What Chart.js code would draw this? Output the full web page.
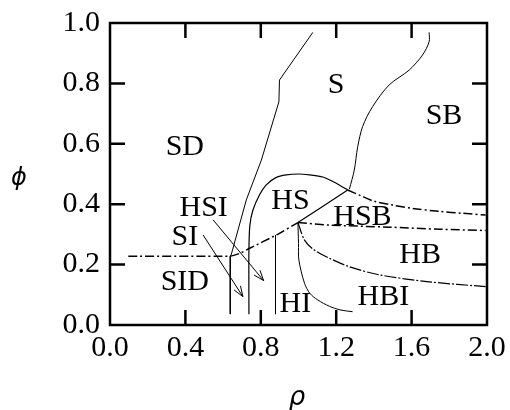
<!DOCTYPE html>
<html><head><meta charset="utf-8">
<script src="https://cdn.jsdelivr.net/npm/chart.js@4/dist/chart.umd.min.js"></script>
<style>html,body{margin:0;padding:0;background:#fff}canvas{display:block}</style>
</head><body>
<canvas id="c" width="510" height="410"></canvas>
<script>
// ---- tick labels ----
const xTicks = [0.0, 0.4, 0.8, 1.2, 1.6, 2.0];
const yTicks = [0.0, 0.2, 0.4, 0.6, 0.8, 1.0];
const xTitle = 'ρ';
const yTitle = 'ϕ';

// ---- phase boundaries (rho, phi) ----
const sdS_x = [1.076, 0.899, 0.896, 0.803, 0.723, 0.644, 0.638, 0.638];
const sdS_y = [0.969, 0.811, 0.739, 0.546, 0.414, 0.235, 0.228, 0.036];

const sSB_x = [1.693, 1.693, 1.658, 1.587, 1.481, 1.393, 1.340, 1.314, 1.296, 1.270];
const sSB_y = [0.969, 0.938, 0.894, 0.844, 0.795, 0.723, 0.657, 0.590, 0.513, 0.450];

const dome_x = [0.737, 0.737, 0.742, 0.758, 0.794, 0.829, 0.880, 0.935, 1.000, 1.058, 1.129, 1.182, 1.220, 1.261];
const dome_y = [0.036, 0.248, 0.330, 0.380, 0.432, 0.464, 0.488, 0.497, 0.500, 0.497, 0.490, 0.475, 0.462, 0.447];

const hsbSB_x = [1.261, 1.323, 1.400, 1.500, 1.605, 1.750, 1.869, 1.993];
const hsbSB_y = [0.447, 0.430, 0.410, 0.397, 0.386, 0.376, 0.370, 0.364];

const lower_x = [0.097, 0.638, 0.688, 0.741, 0.882, 0.997];
const lower_y = [0.228, 0.228, 0.237, 0.254, 0.298, 0.339];

const hsHSB_x = [0.997, 1.130, 1.261];
const hsHSB_y = [0.339, 0.393, 0.447];

const hsbHB_x = [0.997, 1.164, 1.481, 1.750, 1.993];
const hsbHB_y = [0.339, 0.331, 0.324, 0.317, 0.313];

const hbHBI_x = [0.997, 1.032, 1.080, 1.164, 1.270, 1.429, 1.693, 1.993];
const hbHBI_y = [0.339, 0.281, 0.250, 0.221, 0.193, 0.166, 0.143, 0.127];

const hiHBI_x = [0.997, 1.000, 1.002, 1.032, 1.060, 1.102, 1.164, 1.220, 1.287];
const hiHBI_y = [0.339, 0.270, 0.215, 0.138, 0.105, 0.083, 0.062, 0.050, 0.044];

const vert_x = [0.878, 0.878];
const vert_y = [0.298, 0.036];

// ---- arrows ----
const arrowSI_x = [0.494, 0.705];
const arrowSI_y = [0.298, 0.094];
const arrowHSI_x = [0.547, 0.815];
const arrowHSI_y = [0.348, 0.147];

// ---- region labels ----
const regionNames = ['S', 'SB', 'SD', 'HS', 'HSI', 'HSB', 'SI', 'HB', 'SID', 'HBI', 'HI'];
const regionX = [1.200, 1.772, 0.397, 0.957, 0.497, 1.339, 0.397, 1.645, 0.397, 1.450, 0.983];
const regionY = [0.800, 0.700, 0.596, 0.417, 0.394, 0.364, 0.298, 0.238, 0.149, 0.099, 0.077];

const zip = (xs, ys) => xs.map((x, i) => ({x: x, y: ys[i]}));
const DASHDOT = [9, 3, 2, 3];
function line(xs, ys, dash, width, tension) {
  return {data: zip(xs, ys), showLine: true, borderColor: '#000', borderWidth: width || 1,
    borderDash: dash || [], pointRadius: 0, tension: tension || 0, fill: false};
}
const datasets = [
  line(sdS_x, sdS_y, null, 1, 0),
  line(sSB_x, sSB_y, null, 1, 0.3),
  line(dome_x, dome_y, null, 1.2, 0.3),
  line(hsbSB_x, hsbSB_y, DASHDOT, 1.5, 0.3),
  line(lower_x, lower_y, DASHDOT, 1.5, 0.2),
  line(hsHSB_x, hsHSB_y, null, 1.2, 0),
  line(hsbHB_x, hsbHB_y, DASHDOT, 1.5, 0.3),
  line(hbHBI_x, hbHBI_y, [12, 2, 2, 2], 1.2, 0.3),
  line(hiHBI_x, hiHBI_y, null, 1, 0.3),
  line(vert_x, vert_y, null, 1, 0),
  line(arrowSI_x, arrowSI_y, null, 1, 0),
  line(arrowHSI_x, arrowHSI_y, null, 1, 0)
];

const serif = '"Liberation Serif", "Times New Roman", serif';

const framePlugin = {
  id: 'frame',
  afterDraw(chart) {
    const ctx = chart.ctx, a = chart.chartArea;
    const xs = chart.scales.x, ys = chart.scales.y;
    ctx.save();
    ctx.strokeStyle = '#000';
    ctx.lineWidth = 2.5;
    ctx.strokeRect(a.left, a.top, a.right - a.left, a.bottom - a.top);
    const L = 15;
    ctx.beginPath();
    xTicks.slice(1, -1).forEach(v => {
      const p = xs.getPixelForValue(v);
      ctx.moveTo(p, a.bottom); ctx.lineTo(p, a.bottom - L);
      ctx.moveTo(p, a.top); ctx.lineTo(p, a.top + L);
    });
    yTicks.slice(1, -1).forEach(v => {
      const p = ys.getPixelForValue(v);
      ctx.moveTo(a.left, p); ctx.lineTo(a.left + L, p);
      ctx.moveTo(a.right, p); ctx.lineTo(a.right - L, p);
    });
    ctx.stroke();
    // arrowheads
    ctx.lineWidth = 1;
    [[arrowSI_x, arrowSI_y], [arrowHSI_x, arrowHSI_y]].forEach(([ax, ay]) => {
      const x0 = xs.getPixelForValue(ax[0]), y0 = ys.getPixelForValue(ay[0]);
      const x1 = xs.getPixelForValue(ax[1]), y1 = ys.getPixelForValue(ay[1]);
      const ang = Math.atan2(y1 - y0, x1 - x0), h = 11, s = 0.35;
      ctx.beginPath();
      ctx.moveTo(x1 - h * Math.cos(ang - s), y1 - h * Math.sin(ang - s));
      ctx.lineTo(x1, y1);
      ctx.lineTo(x1 - h * Math.cos(ang + s), y1 - h * Math.sin(ang + s));
      ctx.stroke();
    });
    // region labels
    ctx.fillStyle = '#000';
    ctx.font = '30px ' + serif;
    ctx.textAlign = 'center';
    ctx.textBaseline = 'alphabetic';
    regionNames.forEach((n, i) => {
      ctx.fillText(n, xs.getPixelForValue(regionX[i]), ys.getPixelForValue(regionY[i]) + 10);
    });
    // axis titles
    ctx.font = 'italic 24px "DejaVu Sans", sans-serif';
    ctx.textBaseline = 'middle';
    ctx.fillText(yTitle, 19, 179);
    ctx.font = 'italic 26px "DejaVu Sans", sans-serif';
    ctx.fillText(xTitle, 297, 398);
    ctx.restore();
  }
};

new Chart(document.getElementById('c'), {
  type: 'scatter',
  data: {datasets: datasets},
  options: {
    responsive: false,
    devicePixelRatio: 1,
    animation: false,
    layout: {padding: {left: 0, right: 23, top: 23, bottom: 0}},
    plugins: {legend: {display: false}, tooltip: {enabled: false}},
    scales: {
      x: {
        type: 'linear', min: xTicks[0], max: xTicks[xTicks.length - 1],
        afterFit(s) { s.height = 85; s.paddingLeft = 0; s.paddingRight = 0; },
        afterBuildTicks(s) { s.ticks = xTicks.map(v => ({value: v})); },
        ticks: {callback: v => Number(v).toFixed(1), font: {family: serif, size: 30},
          color: '#000', padding: 5, maxRotation: 0, autoSkip: false},
        grid: {display: false, drawTicks: false},
        border: {display: false}
      },
      y: {
        type: 'linear', min: yTicks[0], max: yTicks[yTicks.length - 1],
        afterFit(s) { s.width = 110; s.paddingTop = 0; s.paddingBottom = 0; },
        afterBuildTicks(s) { s.ticks = yTicks.map(v => ({value: v})); },
        ticks: {callback: v => Number(v).toFixed(1), font: {family: serif, size: 30},
          color: '#000', padding: 10, autoSkip: false},
        grid: {display: false, drawTicks: false},
        border: {display: false}
      }
    }
  },
  plugins: [framePlugin]
});
</script>
</body></html>
